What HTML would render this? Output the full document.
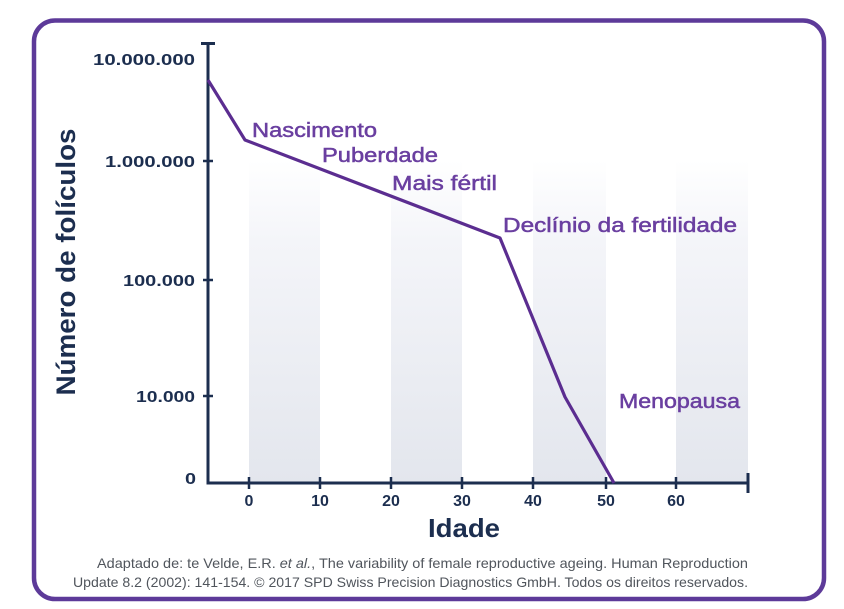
<!DOCTYPE html>
<html>
<head>
<meta charset="utf-8">
<style>
  html,body{margin:0;padding:0;background:#fff;}
  svg{display:block;}
  text{font-family:"Liberation Sans", Arial, sans-serif;}
</style>
</head>
<body>
<svg width="844" height="609" viewBox="0 0 844 609" xmlns="http://www.w3.org/2000/svg">
  <defs>
    <linearGradient id="band" x1="0" y1="0" x2="0" y2="1">
      <stop offset="0" stop-color="#ffffff"/>
      <stop offset="0.25" stop-color="#f4f5f9"/>
      <stop offset="1" stop-color="#e3e6ed"/>
    </linearGradient>
  </defs>
  <rect x="0" y="0" width="844" height="609" fill="#fff"/>
  <!-- frame -->
  <rect x="34" y="20.5" width="790" height="578.5" rx="21" ry="21" fill="none" stroke="#5d3a99" stroke-width="4.5"/>

  <!-- bands -->
  <rect x="249" y="160" width="71" height="323" fill="url(#band)"/>
  <rect x="391" y="160" width="71" height="323" fill="url(#band)"/>
  <rect x="533" y="160" width="73" height="323" fill="url(#band)"/>
  <rect x="676" y="160" width="72" height="323" fill="url(#band)"/>

  <!-- axes -->
  <g stroke="#1c2e4f" stroke-width="3" fill="none" stroke-linecap="butt">
    <line x1="208" y1="43" x2="208" y2="484.5"/>
    <line x1="201" y1="43.5" x2="215" y2="43.5"/>
    <line x1="206.5" y1="483" x2="748" y2="483"/>
    <line x1="748" y1="473" x2="748" y2="493"/>
    <!-- y ticks -->
    <line x1="203" y1="161" x2="213" y2="161" stroke-width="2.5"/>
    <line x1="203" y1="280" x2="213" y2="280" stroke-width="2.5"/>
    <line x1="203" y1="396" x2="213" y2="396" stroke-width="2.5"/>
    <!-- x ticks -->
    <g stroke-width="2.5">
      <line x1="249" y1="477" x2="249" y2="489"/>
      <line x1="320" y1="477" x2="320" y2="489"/>
      <line x1="391" y1="477" x2="391" y2="489"/>
      <line x1="462" y1="477" x2="462" y2="489"/>
      <line x1="533" y1="477" x2="533" y2="489"/>
      <line x1="606" y1="477" x2="606" y2="489"/>
      <line x1="676" y1="477" x2="676" y2="489"/>
    </g>
  </g>

  <!-- y tick labels -->
  <g fill="#1c2e4f" font-weight="bold" font-size="16" text-anchor="end">
    <text x="195" y="65" textLength="102" lengthAdjust="spacingAndGlyphs">10.000.000</text>
    <text x="195" y="167" textLength="90" lengthAdjust="spacingAndGlyphs">1.000.000</text>
    <text x="195" y="286" textLength="72" lengthAdjust="spacingAndGlyphs">100.000</text>
    <text x="195" y="402" textLength="59" lengthAdjust="spacingAndGlyphs">10.000</text>
    <text x="196" y="484" textLength="11" lengthAdjust="spacingAndGlyphs">0</text>
  </g>

  <!-- x tick labels -->
  <g fill="#1c2e4f" font-weight="bold" font-size="16" text-anchor="middle">
    <text x="249" y="506">0</text>
    <text x="320" y="506">10</text>
    <text x="391" y="506">20</text>
    <text x="462" y="506">30</text>
    <text x="533" y="506">40</text>
    <text x="606" y="506">50</text>
    <text x="676" y="506">60</text>
  </g>

  <!-- axis titles -->
  <text x="464" y="537" fill="#1c2e4f" font-weight="bold" font-size="26" text-anchor="middle" textLength="72" lengthAdjust="spacingAndGlyphs">Idade</text>
  <text transform="translate(75,262) rotate(-90)" x="0" y="0" fill="#1c2e4f" font-weight="bold" font-size="27" text-anchor="middle" textLength="267" lengthAdjust="spacingAndGlyphs">Número de folículos</text>

  <!-- curve -->
  <polyline points="208,80 245,140 500,238 565,397 614,483" fill="none" stroke="#5b2d90" stroke-width="3.2" stroke-linejoin="round"/>

  <!-- annotations -->
  <g fill="#6a3fa0" stroke="#6a3fa0" stroke-width="0.5" font-size="20">
    <text x="252" y="137" textLength="125" lengthAdjust="spacingAndGlyphs">Nascimento</text>
    <text x="322" y="162" textLength="116" lengthAdjust="spacingAndGlyphs">Puberdade</text>
    <text x="392" y="190" textLength="105" lengthAdjust="spacingAndGlyphs">Mais fértil</text>
    <text x="503" y="232" textLength="234" lengthAdjust="spacingAndGlyphs">Declínio da fertilidade</text>
    <text x="619" y="408" textLength="121" lengthAdjust="spacingAndGlyphs">Menopausa</text>
  </g>

  <!-- caption -->
  <g fill="#50555c" font-size="14" text-anchor="end">
    <text x="748" y="568" textLength="651" lengthAdjust="spacingAndGlyphs">Adaptado de: te Velde, E.R. <tspan font-style="italic">et al.</tspan>, The variability of female reproductive ageing. Human Reproduction</text>
    <text x="748" y="587" textLength="675" lengthAdjust="spacingAndGlyphs">Update 8.2 (2002): 141-154. © 2017 SPD Swiss Precision Diagnostics GmbH. Todos os direitos reservados.</text>
  </g>
</svg>
</body>
</html>
